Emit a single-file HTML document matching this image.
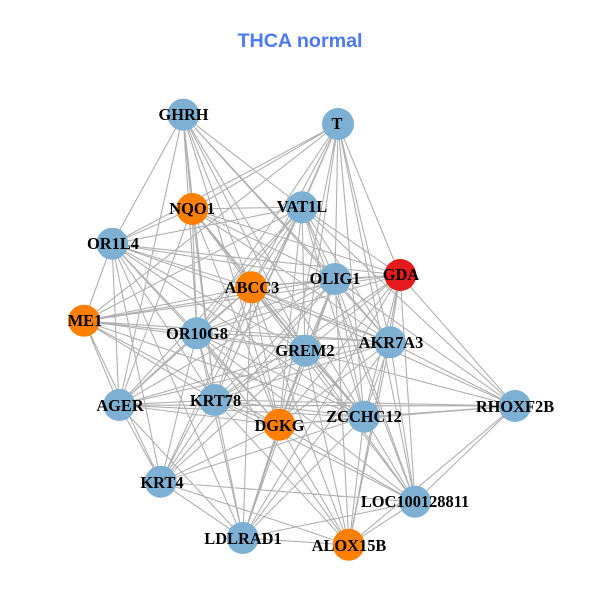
<!DOCTYPE html>
<html><head><meta charset="utf-8"><style>html,body{margin:0;padding:0;background:#fff}svg{display:block}
.n text{font:bold 16.4px "Liberation Serif",serif;fill:#000;text-anchor:middle}</style></head><body>
<svg width="600" height="600" viewBox="0 0 600 600" xmlns="http://www.w3.org/2000/svg">
<rect width="600" height="600" fill="#fff"/>
<text x="300" y="47" text-anchor="middle" style="font:bold 19.7px 'Liberation Sans',sans-serif;fill:#4d79f6">THCA normal</text>
<path fill="none" stroke="#b0b0b0" stroke-width="1.1" d="
M183 115L112 244M183 115L119 405M183 115L192 209M183 115L197 333M183 115L215 400M183 115L251 287M183 115L279 425M183 115L305 351M183 115L335 279M183 115L364 417M183 115L390 342M183 115L302 207
M338 124L192 209M338 124L112 244M338 124L84 321M338 124L302 207M338 124L251 287M338 124L197 333M338 124L215 400M338 124L305 351M338 124L279 425M338 124L335 279M338 124L364 417M338 124L390 342M338 124L400 275M338 124L415 502
M192 209L302 207M192 209L112 244M192 209L335 279M192 209L251 287M192 209L305 351M192 209L197 333M192 209L215 400M192 209L119 405M192 209L400 275M192 209L364 417M192 209L279 425M192 209L390 342
M302 207L112 244M302 207L84 321M302 207L251 287M302 207L335 279M302 207L400 275M302 207L197 333M302 207L305 351M302 207L215 400M302 207L119 405M302 207L161 482M302 207L279 425M302 207L364 417M302 207L390 342M302 207L415 502M302 207L515 406
M112 244L84 321M112 244L251 287M112 244L335 279M112 244L400 275M112 244L197 333M112 244L305 351M112 244L215 400M112 244L119 405M112 244L161 482M112 244L279 425M112 244L243 538M112 244L364 417M112 244L390 342
M84 321L251 287M84 321L335 279M84 321L400 275M84 321L197 333M84 321L305 351M84 321L390 342M84 321L119 405M84 321L215 400M84 321L161 482M84 321L279 425M84 321L364 417
M400 275L335 279M400 275L251 287M400 275L197 333M400 275L305 351M400 275L390 342M400 275L364 417M400 275L515 406M400 275L279 425M400 275L215 400M400 275L415 502M400 275L349 545M400 275L243 538
M335 279L251 287M335 279L197 333M335 279L305 351M335 279L390 342M335 279L364 417M335 279L279 425M335 279L215 400M335 279L243 538M335 279L349 545M335 279L515 406M335 279L415 502M335 279L119 405M335 279L161 482
M251 287L197 333M251 287L305 351M251 287L390 342M251 287L119 405M251 287L215 400M251 287L161 482M251 287L279 425M251 287L364 417M251 287L243 538M251 287L349 545M251 287L415 502M251 287L515 406
M197 333L305 351M197 333L390 342M197 333L119 405M197 333L215 400M197 333L161 482M197 333L279 425M197 333L364 417M197 333L243 538M197 333L349 545M197 333L415 502
M305 351L390 342M305 351L119 405M305 351L215 400M305 351L161 482M305 351L279 425M305 351L364 417M305 351L515 406M305 351L415 502M305 351L349 545M305 351L243 538
M390 342L364 417M390 342L515 406M390 342L415 502M390 342L349 545M390 342L279 425M390 342L215 400M390 342L119 405M390 342L243 538
M119 405L215 400M119 405L161 482M119 405L279 425M119 405L364 417M119 405L243 538M119 405L515 406
M215 400L279 425M215 400L364 417M215 400L161 482M215 400L243 538M215 400L349 545M215 400L415 502M215 400L515 406
M279 425L364 417M279 425L515 406M279 425L161 482M279 425L243 538M279 425L349 545M279 425L415 502
M364 417L515 406M364 417L415 502M364 417L349 545M364 417L243 538M364 417L161 482
M515 406L349 545M515 406L415 502
M161 482L243 538M161 482L415 502M161 482L349 545
M415 502L349 545M415 502L243 538M243 538L349 545"/>
<g fill="#7eb0d3">
<circle cx="183.3" cy="114.7" r="16"/><circle cx="338" cy="124" r="16"/><circle cx="302" cy="207.3" r="16"/><circle cx="112.3" cy="243.7" r="16"/><circle cx="335" cy="279" r="16"/><circle cx="196.7" cy="333.3" r="16"/><circle cx="305" cy="350.7" r="16"/><circle cx="390" cy="342.3" r="16"/><circle cx="119.3" cy="405" r="16"/><circle cx="214.7" cy="400" r="16"/><circle cx="364" cy="416.7" r="16"/><circle cx="515" cy="406" r="16"/><circle cx="160.7" cy="481.7" r="16"/><circle cx="415" cy="501.7" r="16"/><circle cx="242.7" cy="538" r="16"/>
</g>
<g fill="#ff7f00">
<circle cx="192.3" cy="209" r="16"/><circle cx="251.3" cy="287.3" r="16"/><circle cx="84" cy="320.7" r="16"/><circle cx="279.3" cy="424.7" r="16"/><circle cx="348.7" cy="544.7" r="16"/>
</g>
<circle cx="400.3" cy="275" r="16" fill="#e41a1c"/>
<g class="n">
<text x="183.5" y="120">GHRH</text>
<text x="337" y="129">T</text>
<text x="192" y="214">NQO1</text>
<text x="302" y="212">VAT1L</text>
<text x="113" y="249">OR1L4</text>
<text x="401" y="280">GDA</text>
<text x="335" y="284">OLIG1</text>
<text x="252" y="293">ABCC3</text>
<text x="85" y="326">ME1</text>
<text x="197" y="339">OR10G8</text>
<text x="305" y="356">GREM2</text>
<text x="391" y="348">AKR7A3</text>
<text x="120" y="411">AGER</text>
<text x="215.5" y="406">KRT78</text>
<text x="279.5" y="431">DGKG</text>
<text x="364" y="422">ZCCHC12</text>
<text x="515" y="412">RHOXF2B</text>
<text x="162" y="488">KRT4</text>
<text x="415" y="507">LOC100128811</text>
<text x="243" y="544">LDLRAD1</text>
<text x="349" y="551">ALOX15B</text>
</g>
</svg>
</body></html>
